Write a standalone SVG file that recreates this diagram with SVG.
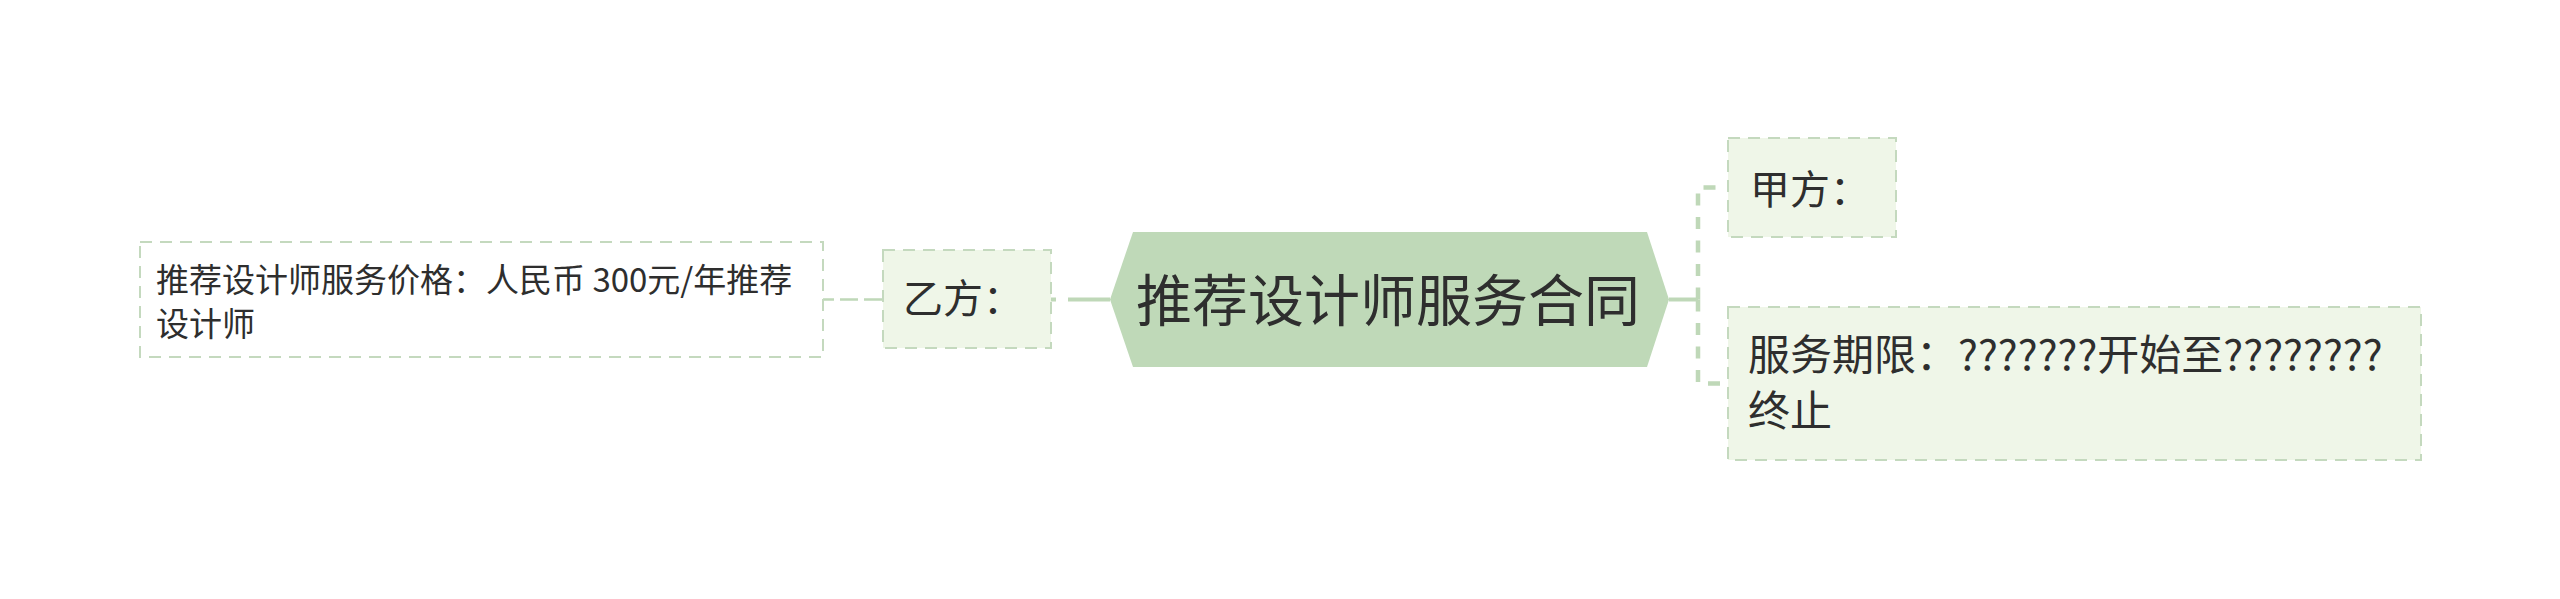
<svg xmlns="http://www.w3.org/2000/svg" width="2560" height="599" viewBox="0 0 2560 599">
<defs>
<style>
.t{font-family:"Noto Sans CJK SC","Liberation Sans",sans-serif;fill:#2e2e2e}
.box{fill:#eff6e8;stroke:#c4d9be;stroke-width:2;stroke-dasharray:12 8}
.boxw{fill:#ffffff;stroke:#c4d9be;stroke-width:2;stroke-dasharray:12 8}
.c{fill:none;stroke:#bfd8b8}
</style>
</defs>
<rect width="2560" height="599" fill="#ffffff"/>
<g id="connectors">
<path class="c" d="M1110 299.5H1051" stroke-width="4" stroke-dasharray="42 12"/>
<path class="c" d="M882 299.5H823" stroke-width="2.5" stroke-dasharray="18 6"/>
<path class="c" d="M1669 299.5H1698" stroke-width="4"/>
<path class="c" d="M1698 299.5V187.5H1728" stroke-width="4.5" stroke-dasharray="12 11.5"/>
<path class="c" d="M1698 299.5V383.5H1728" stroke-width="4.5" stroke-dasharray="12 11.5"/>
</g>
<g id="root">
<polygon points="1110,299.5 1133,232 1647,232 1669,299.5 1647,367 1133,367" fill="#bfd9b8"/>
<text class="t" x="1388" y="321" font-size="56" text-anchor="middle">推荐设计师服务合同</text>
</g>
<g id="node-yi">
<rect class="box" x="883" y="250" width="168" height="98"/>
<text class="t" x="903" y="313" font-size="40">乙方：</text>
</g>
<g id="node-price">
<rect class="boxw" x="140" y="242" width="683" height="115"/>
<text class="t" font-size="33"><tspan x="156" y="292">推荐设计师服务价格：人民币 300元/年推荐</tspan><tspan x="156" y="336">设计师</tspan></text>
</g>
<g id="node-jia">
<rect class="box" x="1728" y="138" width="168" height="99"/>
<text class="t" x="1750" y="204" font-size="40">甲方：</text>
</g>
<g id="node-term">
<rect class="box" x="1728" y="307" width="693" height="153"/>
<text class="t" font-size="42"><tspan x="1748" y="370">服务期限：???????开始至????????</tspan><tspan x="1748" y="426">终止</tspan></text>
</g>
</svg>
